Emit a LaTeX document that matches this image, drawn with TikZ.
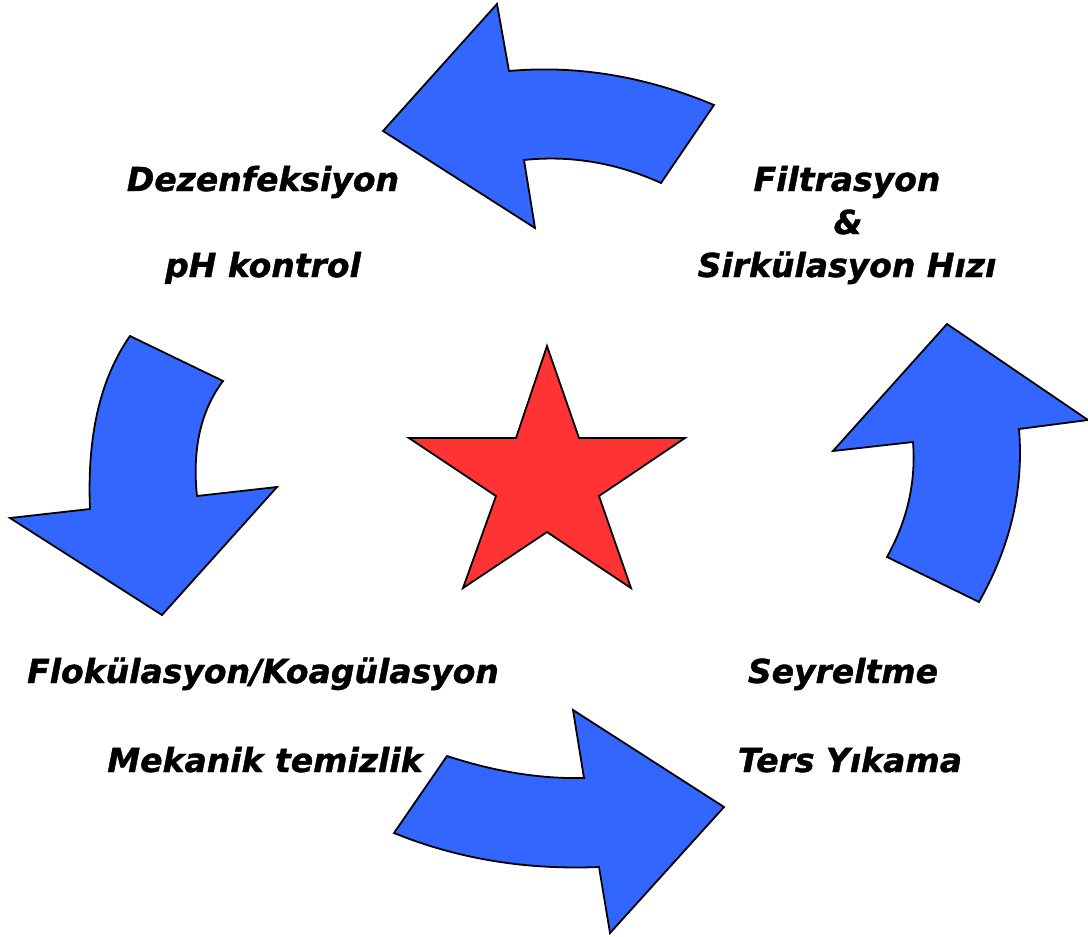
\documentclass[tikz,border=0pt]{standalone}
\usepackage{fontspec}
\setmainfont{DejaVu Sans}[BoldItalicFeatures={FakeBold=1.2}]
\definecolor{cycleblue}{HTML}{3366FF}
\definecolor{starred}{HTML}{FF3333}
\begin{document}
\begin{tikzpicture}[x=1pt, y=-1pt,
    bluearrow/.style={draw=black, line width=1.8pt, fill=cycleblue, line join=miter},
    redstar/.style={draw=black, line width=1.8pt, fill=starred},
    label/.style={anchor=base, inner sep=0pt, font=\fontsize{33}{40}\selectfont\bfseries\itshape}]
    \useasboundingbox (0,0) rectangle (1088,937);

    % Top arrow (pointing left)
    \draw[bluearrow] (509,71) .. controls (576,65) and (645,76) .. (714,105) -- (661,183)
        .. controls (617,163) and (571,155) .. (524,160) -- (535,228) -- (383,131) -- (497,4) -- cycle;

    % Left arrow (pointing down)
    \draw[bluearrow] (130,336) -- (223,381) .. controls (201,410) and (192,449) .. (197,496)
        -- (277,487) -- (162,615) -- (10,518) -- (90,509) .. controls (87,436) and (100,379) .. cycle;

    % Bottom arrow (pointing right)
    \draw[bluearrow] (447,756) .. controls (496,772) and (541,779) .. (584,778) -- (573,710)
        -- (724,807) -- (610,933) -- (599,867) .. controls (526,870) and (458,859) .. (394,833) -- cycle;

    % Right arrow (pointing up)
    \draw[bluearrow] (887,557) .. controls (908,519) and (916,481) .. (913,442) -- (833,451)
        -- (947,324) -- (1088,420) -- (1019,429) .. controls (1024,490) and (1010,547) .. (979,602) -- cycle;

    % Star in the middle
    \draw[redstar] (547,346) -- (579,438) -- (685,438) -- (599,496) -- (631,588)
        -- (547,532) -- (463,588) -- (496,496) -- (409,438) -- (516,438) -- cycle;

    % Labels
    \node[label] (dezenfeksiyon) at (263,191) {Dezenfeksiyon};
    \node[label] (phkontrol) at (263,277) {pH kontrol};
    \node[label] (filtrasyon) at (847,191) {Filtrasyon};
    \node[label] (ve) at (848,234) {\&};
    \node[label] (sirkulasyon) at (847,277) {Sirkülasyon Hızı};
    \node[label] (flokulasyon) at (263,683) {Flokülasyon/Koagülasyon};
    \node[label] (mekanik) at (265,772) {Mekanik temizlik};
    \node[label] (seyreltme) at (843,683) {Seyreltme};
    \node[label] (tersyikama) at (850,772) {Ters Yıkama};

\end{tikzpicture}
\end{document}
